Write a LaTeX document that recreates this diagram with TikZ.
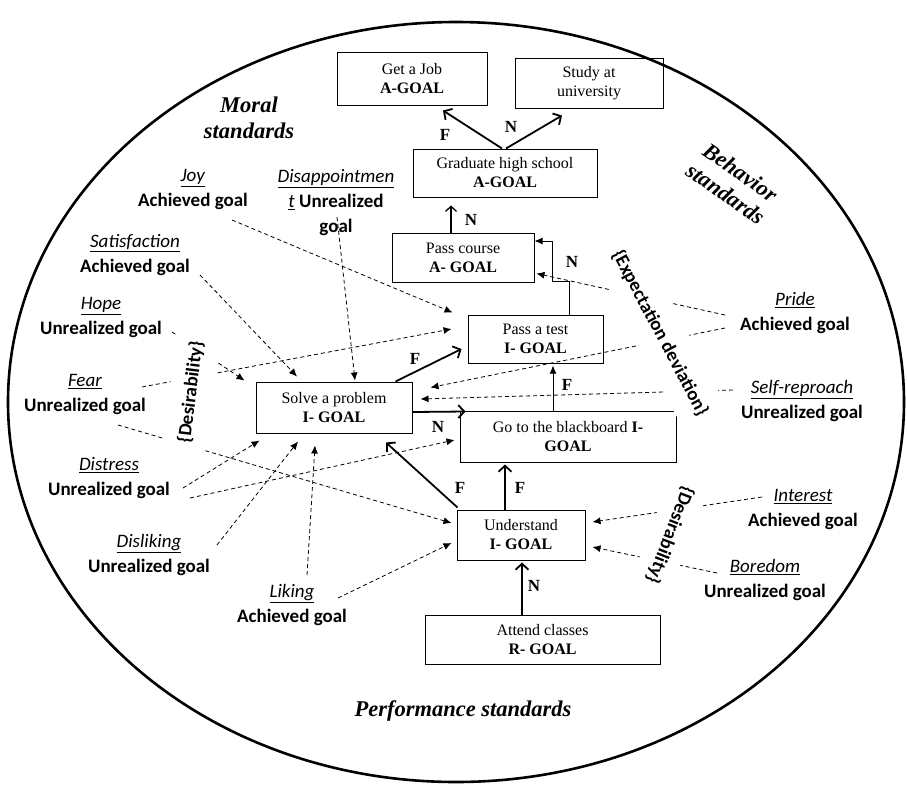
\documentclass[tikz,border=0pt]{standalone}
\usepackage{fontspec}
\setmainfont{Liberation Serif}
\newfontfamily\carl{Carlito}
\usetikzlibrary{arrows.meta,calc}
\begin{document}
\begin{tikzpicture}[x=1pt,y=-1pt,
  goalbox/.style={draw, line width=1pt, align=center, inner sep=0pt, font=\fontsize{16}{19}\selectfont},
  emo/.style={align=center, font=\carl\fontsize{19}{25}\selectfont, inner sep=1pt},
  std/.style={align=center, font=\fontsize{22.5}{26}\selectfont\bfseries\itshape},
  bracetext/.style={font=\carl\bfseries\fontsize{19}{22}\selectfont, fill=white},
  solidarr/.style={line width=1.8pt, -{Straight Barb[length=6pt,width=13pt]}},
  thinarr/.style={line width=1pt, -{Latex[length=8pt,width=7pt]}},
  emoarr/.style={line width=0.8pt, dash pattern=on 4pt off 3pt, -{Latex[length=8pt,width=7pt]}},
  lbl/.style={font=\fontsize{17}{17}\selectfont\bfseries, inner sep=0pt}
]
\useasboundingbox (0,0) rectangle (907,788);
\draw[line width=2.6pt] (456,402) ellipse [x radius=448, y radius=380];

% goal boxes
\node[goalbox, minimum width=150pt, minimum height=53pt] (job) at (412,78.5) {Get a Job\\\textbf{A-GOAL}};
\node[goalbox, minimum width=148pt, minimum height=50pt] (study) at (589,83) {Study at\\university};
\node[goalbox, minimum width=184pt, minimum height=48pt] (grad) at (505,173) {Graduate high school\\\textbf{A-GOAL}};
\node[goalbox, minimum width=142pt, minimum height=49pt] (course) at (463,257.5) {Pass course\\\textbf{A- GOAL}};
\node[goalbox, minimum width=135pt, minimum height=48pt] (test) at (535.5,339) {Pass a test\\\textbf{I- GOAL}};
\node[goalbox, minimum width=156pt, minimum height=51pt] (solve) at (334,407.5) {Solve a problem\\\textbf{I- GOAL}};
\node[goalbox, minimum width=216pt, minimum height=51pt] (board) at (568,436.5) {Go to the blackboard \textbf{I-}\\\textbf{GOAL}};
\node[goalbox, minimum width=128pt, minimum height=50pt] (under) at (521,535) {Understand\\\textbf{I- GOAL}};
\node[goalbox, minimum width=235pt, minimum height=49pt] (attend) at (542.5,639.5) {Attend classes\\\textbf{R- GOAL}};

% standards
\node[std] (moral) at (249,118) {Moral\\standards};
\node[std, rotate=-35] (behav) at (733,183) {Behavior\\standards};
\node[std] (perf) at (463,711) {Performance standards};

% emotion labels
\node[emo] (joy) at (193,190) {\underline{\textit{Joy}}\\\textbf{Achieved goal}};
\node[emo] (disap) at (336,203) {\underline{\textit{Disappointmen}}\\\underline{\textit{t}} \textbf{Unrealized}\\\textbf{goal}};
\node[emo] (satis) at (135,255) {\underline{\textit{Satisfaction}}\\\textbf{Achieved goal}};
\node[emo] (hope) at (101,318) {\underline{\textit{Hope}}\\\textbf{Unrealized goal}};
\node[emo] (fear) at (85,395) {\underline{\textit{Fear}}\\\textbf{Unrealized goal}};
\node[emo] (distress) at (109,478) {\underline{\textit{Distress}}\\\textbf{Unrealized goal}};
\node[emo] (disliking) at (149,555) {\underline{\textit{Disliking}}\\\textbf{Unrealized goal}};
\node[emo] (liking) at (292,605) {\underline{\textit{Liking}}\\\textbf{Achieved goal}};
\node[emo] (pride) at (795,313) {\underline{\textit{Pride}}\\\textbf{Achieved goal}};
\node[emo] (selfr) at (802,401) {\underline{\textit{Self-reproach}}\\\textbf{Unrealized goal}};
\node[emo] (interest) at (803,510) {\underline{\textit{Interest}}\\\textbf{Achieved goal}};
\node[emo] (boredom) at (765,580) {\underline{\textit{Boredom}}\\\textbf{Unrealized goal}};

% free ends of emotion connectors
\coordinate (cjoy) at (232,220);
\coordinate (cdisap) at (337,217);
\coordinate (csatis) at (200,275);
\coordinate (chope) at (172,332);
\coordinate (cfear1) at (142,387);
\coordinate (cfear2) at (118,425);
\coordinate (cdis1) at (183,488);
\coordinate (cdis2) at (190,498);
\coordinate (cdisl) at (217,545);
\coordinate (clik1) at (307,575);
\coordinate (clik2) at (338,598);
\coordinate (cpride1) at (725,315);
\coordinate (cpride2) at (725,328);
\coordinate (cselfr) at (733,390);
\coordinate (cint) at (762,497);
\coordinate (cbor) at (717,573);

% emotion connectors
\draw[emoarr] (cjoy) -- ($(test.north west)+(-15,-2)$);
\draw[emoarr] (cdisap) -- ($(solve.north)+(21,-1)$);
\draw[emoarr] (csatis) -- ($(solve.north)+(-37,-5)$);
\draw[emoarr] (chope) -- ($(solve.north west)+(-11,-1)$);
\draw[emoarr] (cfear1) -- ($(test.west)+(-16,-10)$);
\draw[emoarr] (cfear2) -- ($(under.west)+(-5,-12)$);
\draw[emoarr] (cdis1) -- ($(solve.south west)+(4,7)$);
\draw[emoarr] (cdis2) -- ($(board.west)+(-5,3.5)$);
\draw[emoarr] (cdisl) -- ($(solve.south)+(-36,8)$);
\draw[emoarr] (clik1) -- ($(solve.south)+(-19,12)$);
\draw[emoarr] (clik2) -- ($(under.west)+(-5,8)$);
\draw[emoarr] (cpride1) -- ($(course.south east)+(2,-9)$);
\draw[emoarr] (cpride2) -- ($(solve.north east)+(18,6)$);
\draw[emoarr] (cselfr) -- ($(solve.east)+(8,-8.5)$);
\draw[emoarr] (cint) -- ($(under.east)+(7,-13)$);
\draw[emoarr] (cbor) -- ($(under.east)+(7,12)$);

% goal connectors
\draw[solidarr] ($(grad.north)+(-3,0)$) -- ($(job.south)+(31,5)$);
\draw[solidarr] ($(grad.north)+(1,0)$) -- ($(study.south)+(-27,7)$);
\draw[line width=1.3pt, -{Straight Barb[length=5pt,width=11pt]}] ($(course.north)+(-12,0)$) -- ($(grad.south)+(-54,8)$);
\draw[thinarr] ($(test.north)+(33.5,0)$) -- ++(0,-33) -- ++(-17,0) |- ($(course.east)+(0,-16.5)$);
\draw[thinarr] ($(board.north)+(-15,0)$) -- ($(test.south)+(17.5,2)$);
\draw[solidarr] ($(solve.north east)+(-17,0)$) -- ($(test.west)+(-6,10)$);
\draw[solidarr] ($(solve.east)+(0,4.5)$) -- ($(board.north west)+(6,1)$);
\draw[solidarr] ($(under.north west)+(1,-2)$) -- ($(solve.south)+(52,9)$);
\draw[solidarr] ($(under.north)+(-16,0)$) -- ($(board.south)+(-63,2)$);
\draw[solidarr] ($(attend.north)+(-20.5,0)$) -- ($(under.south)+(1,2)$);

% connector labels
\node[lbl] (l1) at (445,135) {F};
\node[lbl] (l2) at (511,127) {N};
\node[lbl] (l3) at (471,220) {N};
\node[lbl] (l4) at (572,262) {N};
\node[lbl] (l5) at (567,385) {F};
\node[lbl] (l6) at (415,359) {F};
\node[lbl] (l7) at (438,427) {N};
\node[lbl] (l8) at (460,488) {F};
\node[lbl] (l9) at (520,488) {F};
\node[lbl] (l10) at (534,586) {N};

% brace texts
\node[bracetext, rotate=83, inner xsep=6pt, inner ysep=13pt] (desl) at (191,392) {\{Desirability\}};
\node[bracetext, rotate=-62, inner xsep=2pt, inner ysep=16pt] (expd) at (660,333) {\{Expectation deviation\}};
\node[bracetext, rotate=-111, inner xsep=2pt, inner ysep=12pt] (desr) at (670,535) {\{Desirability\}};
\end{tikzpicture}
\end{document}
